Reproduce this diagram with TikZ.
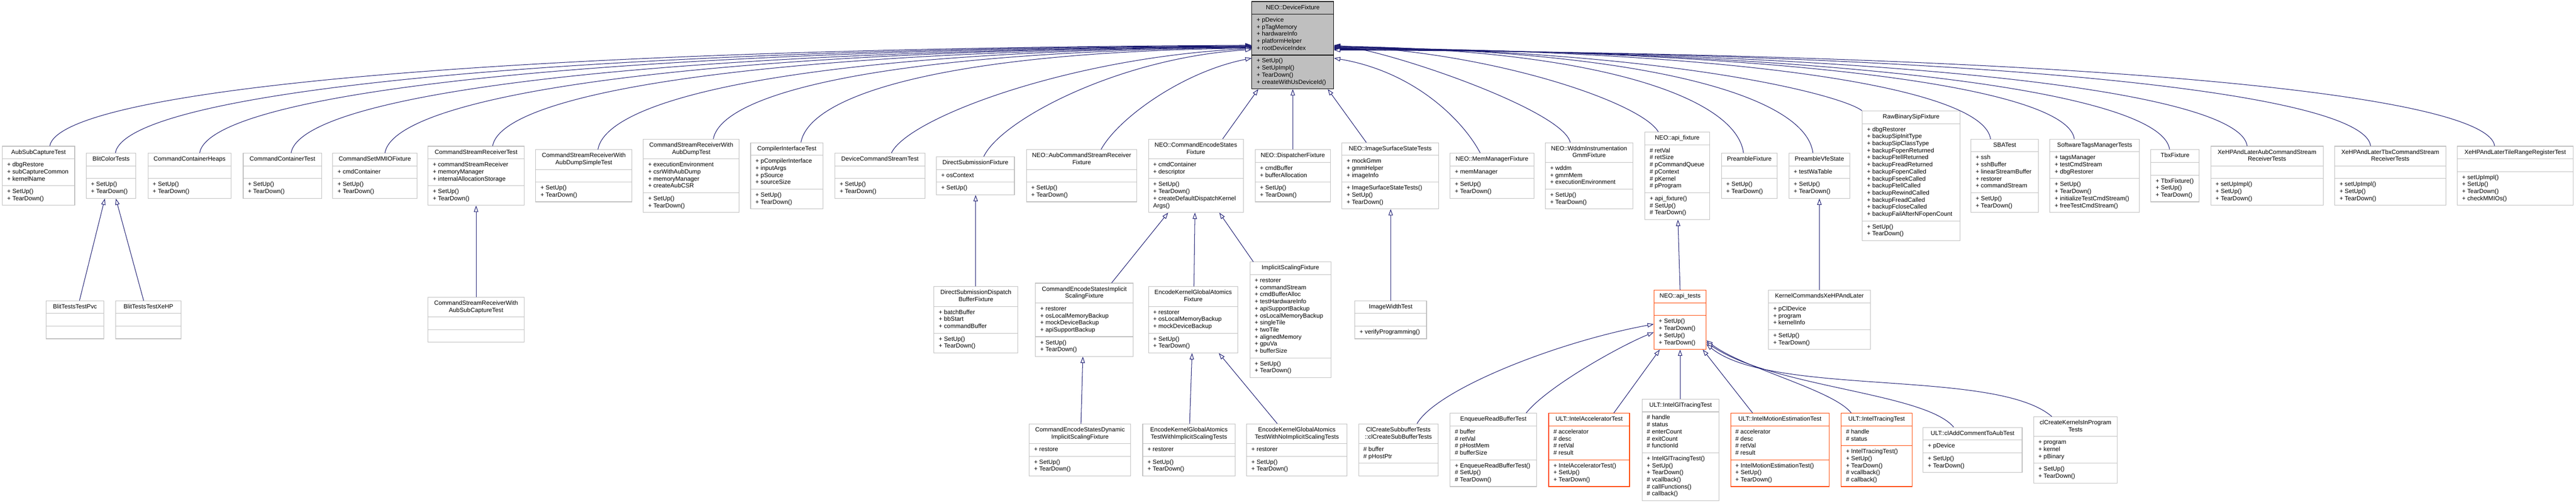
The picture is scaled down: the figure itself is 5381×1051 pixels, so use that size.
\documentclass[tikz,border=0pt]{standalone}
\usepackage{fontspec}
\setmainfont{Liberation Sans}
\usetikzlibrary{shapes.multipart,arrows.meta}
\definecolor{clsgray}{HTML}{BFBFBF}
\definecolor{rootgray}{HTML}{BFBFBF}
\definecolor{redb}{HTML}{FF4500}
\definecolor{edgec}{HTML}{191970}
\newcommand\pA{\strut+ }
\newcommand\hA{\strut\# }
\newcommand\ttl[2]{\begin{tabular}{@{}c@{}}#1\\#2\end{tabular}}
\tikzset{
 cls/.style={rectangle split, rectangle split parts=3, draw=clsgray, line width=1.2pt, fill=white,
   font=\fontsize{12.7}{14.75}\selectfont, align=left,
   rectangle split part align={center,left,left}, inner xsep=10pt, inner ysep=5.25pt},
 rootcls/.style={cls, draw=black, fill=rootgray},
 redcls/.style={cls, draw=redb},
 inh/.style={draw=edgec, line width=1.1pt, -{Triangle[length=13pt,width=9pt,fill=white]}},
}
\begin{document}
\begin{tikzpicture}[x=1pt,y=1pt]
\useasboundingbox (0,0) rectangle (5381,-1051);
\fill[white] (0,0) rectangle (5381,-1051);

% ---------- row 1
\node[rootcls, minimum width=171pt] (df) at (2700.5,-94.5) {\strut NEO::DeviceFixture
 \nodepart{second}\pA pDevice\\\pA pTagMemory\\\pA hardwareInfo\\\pA platformHelper\\\pA rootDeviceIndex
 \nodepart{third}\pA SetUp()\\\pA SetUpImpl()\\\pA TearDown()\\\pA createWithUsDeviceId()};

% ---------- row 2
\node[cls, minimum width=151pt] (aubsub) at (80.5,-367.5) {\strut AubSubCaptureTest
 \nodepart{second}\pA dbgRestore\\\pA subCaptureCommon\\\pA kernelName
 \nodepart{third}\pA SetUp()\\\pA TearDown()};
\node[cls, minimum width=104pt] (blitcolor) at (232,-367.5) {\strut BlitColorTests
 \nodepart{second}\strut
 \nodepart{third}\pA SetUp()\\\pA TearDown()};
\node[cls, minimum width=174pt] (cch) at (396,-367.5) {\strut CommandContainerHeaps
 \nodepart{second}\strut
 \nodepart{third}\pA SetUp()\\\pA TearDown()};
\node[cls, minimum width=164pt] (cct) at (590,-367.5) {\strut CommandContainerTest
 \nodepart{second}\strut
 \nodepart{third}\pA SetUp()\\\pA TearDown()};
\node[cls, minimum width=176pt] (mmio) at (783,-367.5) {\strut CommandSetMMIOFixture
 \nodepart{second}\pA cmdContainer
 \nodepart{third}\pA SetUp()\\\pA TearDown()};
\node[cls, minimum width=201pt] (csrt) at (994.5,-367.5) {\strut CommandStreamReceiverTest
 \nodepart{second}\pA commandStreamReceiver\\\pA memoryManager\\\pA internalAllocationStorage
 \nodepart{third}\pA SetUp()\\\pA TearDown()};
\node[cls, minimum width=201pt] (csrads) at (1219.5,-367.5) {\ttl{CommandStreamReceiverWith}{AubDumpSimpleTest}
 \nodepart{second}\strut
 \nodepart{third}\pA SetUp()\\\pA TearDown()};
\node[cls, minimum width=200pt] (csrad) at (1444,-367.5) {\ttl{CommandStreamReceiverWith}{AubDumpTest}
 \nodepart{second}\pA executionEnvironment\\\pA csrWithAubDump\\\pA memoryManager\\\pA createAubCSR
 \nodepart{third}\pA SetUp()\\\pA TearDown()};
\node[cls, minimum width=151pt] (cit) at (1643.5,-367.5) {\strut CompilerInterfaceTest
 \nodepart{second}\pA pCompilerInterface\\\pA inputArgs\\\pA pSource\\\pA sourceSize
 \nodepart{third}\pA SetUp()\\\pA TearDown()};
\node[cls, minimum width=188pt] (dcst) at (1838,-367.5) {\strut DeviceCommandStreamTest
 \nodepart{second}\strut
 \nodepart{third}\pA SetUp()\\\pA TearDown()};
\node[cls, minimum width=163pt] (dsf) at (2037.5,-367.5) {\strut DirectSubmissionFixture
 \nodepart{second}\pA osContext
 \nodepart{third}\pA SetUp()};
\node[cls, minimum width=231pt] (acsrf) at (2259.5,-367.5) {\ttl{NEO::AubCommandStreamReceiver}{Fixture}
 \nodepart{second}\strut
 \nodepart{third}\pA SetUp()\\\pA TearDown()};
\node[cls, minimum width=198pt] (cesf) at (2498,-367.5) {\ttl{NEO::CommandEncodeStates}{Fixture}
 \nodepart{second}\pA cmdContainer\\\pA descriptor
 \nodepart{third}\pA SetUp()\\\pA TearDown()\\\pA createDefaultDispatchKernel\\\strut Args()};
\node[cls, minimum width=157pt] (dispf) at (2700.5,-367.5) {\strut NEO::DispatcherFixture
 \nodepart{second}\pA cmdBuffer\\\pA bufferAllocation
 \nodepart{third}\pA SetUp()\\\pA TearDown()};
\node[cls, minimum width=202pt] (issf) at (2904,-367.5) {\strut NEO::ImageSurfaceStateTests
 \nodepart{second}\pA mockGmm\\\pA gmmHelper\\\pA imageInfo
 \nodepart{third}\pA ImageSurfaceStateTests()\\\pA SetUp()\\\pA TearDown()};
\node[cls, minimum width=175pt] (mmf) at (3116.5,-367.5) {\strut NEO::MemManagerFixture
 \nodepart{second}\pA memManager
 \nodepart{third}\pA SetUp()\\\pA TearDown()};
\node[cls, minimum width=183pt] (wddm) at (3319.5,-367.5) {\ttl{NEO::WddmInstrumentation}{GmmFixture}
 \nodepart{second}\pA wddm\\\pA gmmMem\\\pA executionEnvironment
 \nodepart{third}\pA SetUp()\\\pA TearDown()};
\node[cls, minimum width=135pt] (apif) at (3503.5,-367.5) {\strut NEO::api\_fixture
 \nodepart{second}\hA retVal\\\hA retSize\\\hA pCommandQueue\\\hA pContext\\\hA pKernel\\\hA pProgram
 \nodepart{third}\pA api\_fixture()\\\hA SetUp()\\\hA TearDown()};
\node[cls, minimum width=116pt] (pref) at (3654,-367.5) {\strut PreambleFixture
 \nodepart{second}\strut
 \nodepart{third}\pA SetUp()\\\pA TearDown()};
\node[cls, minimum width=127pt] (pvfe) at (3800.5,-367.5) {\strut PreambleVfeState
 \nodepart{second}\pA testWaTable
 \nodepart{third}\pA SetUp()\\\pA TearDown()};
\node[cls, minimum width=204pt] (rbsf) at (3992,-367.5) {\strut RawBinarySipFixture
 \nodepart{second}\pA dbgRestorer\\\pA backupSipInitType\\\pA backupSipClassType\\\pA backupFopenReturned\\\pA backupFtellReturned\\\pA backupFreadReturned\\\pA backupFopenCalled\\\pA backupFseekCalled\\\pA backupFtellCalled\\\pA backupRewindCalled\\\pA backupFreadCalled\\\pA backupFcloseCalled\\\pA backupFailAfterNFopenCount
 \nodepart{third}\pA SetUp()\\\pA TearDown()};
\node[cls, minimum width=141pt] (sba) at (4187.5,-367.5) {\strut SBATest
 \nodepart{second}\pA ssh\\\pA sshBuffer\\\pA linearStreamBuffer\\\pA restorer\\\pA commandStream
 \nodepart{third}\pA SetUp()\\\pA TearDown()};
\node[cls, minimum width=187pt] (stm) at (4375.5,-367.5) {\strut SoftwareTagsManagerTests
 \nodepart{second}\pA tagsManager\\\pA testCmdStream\\\pA dbgRestorer
 \nodepart{third}\pA SetUp()\\\pA TearDown()\\\pA initializeTestCmdStream()\\\pA freeTestCmdStream()};
\node[cls, minimum width=101pt] (tbx) at (4543.5,-367.5) {\strut TbxFixture
 \nodepart{second}\strut
 \nodepart{third}\pA TbxFixture()\\\pA SetUp()\\\pA TearDown()};
\node[cls, minimum width=235pt] (xaub) at (4735.5,-367.5) {\ttl{XeHPAndLaterAubCommandStream}{ReceiverTests}
 \nodepart{second}\strut
 \nodepart{third}\pA setUpImpl()\\\pA SetUp()\\\pA TearDown()};
\node[cls, minimum width=232pt] (xtbx) at (4993,-367.5) {\ttl{XeHPAndLaterTbxCommandStream}{ReceiverTests}
 \nodepart{second}\strut
 \nodepart{third}\pA setUpImpl()\\\pA SetUp()\\\pA TearDown()};
\node[cls, minimum width=242pt] (xtile) at (5254,-367.5) {\strut XeHPAndLaterTileRangeRegisterTest
 \nodepart{second}\strut
 \nodepart{third}\pA setUpImpl()\\\pA SetUp()\\\pA TearDown()\\\pA checkMMIOs()};

% ---------- row 3
\node[cls, minimum width=121pt] (pvc) at (156.5,-668.5) {\strut BlitTestsTestPvc
 \nodepart{second}\strut \nodepart{third}\strut};
\node[cls, minimum width=136pt] (xehp) at (310,-668.5) {\strut BlitTestsTestXeHP
 \nodepart{second}\strut \nodepart{third}\strut};
\node[cls, minimum width=201pt] (csrsub) at (994.5,-668.5) {\ttl{CommandStreamReceiverWith}{AubSubCaptureTest}
 \nodepart{second}\strut \nodepart{third}\strut};
\node[cls, minimum width=175pt] (dsdbf) at (2038.5,-668.5) {\ttl{DirectSubmissionDispatch}{BufferFixture}
 \nodepart{second}\pA batchBuffer\\\pA bbStart\\\pA commandBuffer
 \nodepart{third}\pA SetUp()\\\pA TearDown()};
\node[cls, minimum width=204pt] (cesisf) at (2265,-668.5) {\ttl{CommandEncodeStatesImplicit}{ScalingFixture}
 \nodepart{second}\pA restorer\\\pA osLocalMemoryBackup\\\pA mockDeviceBackup\\\pA apiSupportBackup
 \nodepart{third}\pA SetUp()\\\pA TearDown()};
\node[cls, minimum width=187pt] (ekgaf) at (2492.5,-668.5) {\ttl{EncodeKernelGlobalAtomics}{Fixture}
 \nodepart{second}\pA restorer\\\pA osLocalMemoryBackup\\\pA mockDeviceBackup
 \nodepart{third}\pA SetUp()\\\pA TearDown()};
\node[cls, minimum width=169pt] (isf) at (2695.5,-668.5) {\strut ImplicitScalingFixture
 \nodepart{second}\pA restorer\\\pA commandStream\\\pA cmdBufferAlloc\\\pA testHardwareInfo\\\pA apiSupportBackup\\\pA osLocalMemoryBackup\\\pA singleTile\\\pA twoTile\\\pA alignedMemory\\\pA gpuVa\\\pA bufferSize
 \nodepart{third}\pA SetUp()\\\pA TearDown()};
\node[cls, minimum width=150pt] (iwt) at (2905,-668.5) {\strut ImageWidthTest
 \nodepart{second}\strut
 \nodepart{third}\pA verifyProgramming()};
\node[redcls, minimum width=109pt] (apit) at (3509.5,-668.5) {\strut NEO::api\_tests
 \nodepart{second}\strut
 \nodepart{third}\pA SetUp()\\\pA TearDown()\\\pA SetUp()\\\pA TearDown()};
\node[cls, minimum width=213pt] (kcxe) at (3800.5,-668.5) {\strut KernelCommandsXeHPAndLater
 \nodepart{second}\pA pClDevice\\\pA program\\\pA kernelInfo
 \nodepart{third}\pA SetUp()\\\pA TearDown()};

% ---------- row 4
\node[cls, minimum width=212pt] (cesdis) at (2256,-940.5) {\ttl{CommandEncodeStatesDynamic}{ImplicitScalingFixture}
 \nodepart{second}\pA restore
 \nodepart{third}\pA SetUp()\\\pA TearDown()};
\node[cls, minimum width=193pt] (ekgawis) at (2483.5,-940.5) {\ttl{EncodeKernelGlobalAtomics}{TestWithImplicitScalingTests}
 \nodepart{second}\pA restorer
 \nodepart{third}\pA SetUp()\\\pA TearDown()};
\node[cls, minimum width=210pt] (ekgawnis) at (2709,-940.5) {\ttl{EncodeKernelGlobalAtomics}{TestWithNoImplicitScalingTests}
 \nodepart{second}\pA restorer
 \nodepart{third}\pA SetUp()\\\pA TearDown()};
\node[cls, minimum width=166pt] (ccsb) at (2921,-940.5) {\ttl{ClCreateSubbufferTests}{::clCreateSubBufferTests}
 \nodepart{second}\hA buffer\\\hA pHostPtr
 \nodepart{third}\strut};
\node[cls, minimum width=181pt] (erbt) at (3119.5,-940.5) {\strut EnqueueReadBufferTest
 \nodepart{second}\hA buffer\\\hA retVal\\\hA pHostMem\\\hA bufferSize
 \nodepart{third}\pA EnqueueReadBufferTest()\\\hA SetUp()\\\hA TearDown()};
\node[redcls, minimum width=169pt] (iat) at (3319.5,-940.5) {\strut ULT::IntelAcceleratorTest
 \nodepart{second}\hA accelerator\\\hA desc\\\hA retVal\\\hA result
 \nodepart{third}\pA IntelAcceleratorTest()\\\pA SetUp()\\\pA TearDown()};
\node[cls, minimum width=161pt] (igt) at (3510.5,-940.5) {\strut ULT::IntelGlTracingTest
 \nodepart{second}\hA handle\\\hA status\\\hA enterCount\\\hA exitCount\\\hA functionId
 \nodepart{third}\pA IntelGlTracingTest()\\\pA SetUp()\\\pA TearDown()\\\hA vcallback()\\\hA callFunctions()\\\hA callback()};
\node[redcls, minimum width=206pt] (imet) at (3718,-940.5) {\strut ULT::IntelMotionEstimationTest
 \nodepart{second}\hA accelerator\\\hA desc\\\hA retVal\\\hA result
 \nodepart{third}\pA IntelMotionEstimationTest()\\\pA SetUp()\\\pA TearDown()};
\node[redcls, minimum width=148pt] (itt) at (3920,-940.5) {\strut ULT::IntelTracingTest
 \nodepart{second}\hA handle\\\hA status
 \nodepart{third}\pA IntelTracingTest()\\\pA SetUp()\\\pA TearDown()\\\hA vcallback()\\\hA callback()};
\node[cls, minimum width=207pt] (cacta) at (4120.5,-940.5) {\strut ULT::clAddCommentToAubTest
 \nodepart{second}\pA pDevice
 \nodepart{third}\pA SetUp()\\\pA TearDown()};
\node[cls, minimum width=175pt] (ckipt) at (4335.5,-940.5) {\ttl{clCreateKernelsInProgram}{Tests}
 \nodepart{second}\pA program\\\pA kernel\\\pA pBinary
 \nodepart{third}\pA SetUp()\\\pA TearDown()};

% ---------- edges to NEO::DeviceFixture (left side)
\draw[inh] ([xshift=23.5pt]aubsub.north) .. controls (124,-192) and (983,-102) .. ([yshift=-92pt]df.north west);
\draw[inh] ([xshift=9pt]blitcolor.north) .. controls (261,-199) and (1072,-103) .. ([yshift=-93pt]df.north west);
\draw[inh] ([xshift=21pt]cch.north) .. controls (437,-199) and (1186,-104) .. ([yshift=-94pt]df.north west);
\draw[inh] ([xshift=18pt]cct.north) .. controls (628,-200) and (1310,-105) .. ([yshift=-95pt]df.north west);
\draw[inh] ([xshift=21pt]mmio.north) .. controls (824,-200) and (1438,-105) .. ([yshift=-95pt]df.north west);
\draw[inh] ([xshift=34.5pt]csrt.north) .. controls (1049,-194) and (1584,-106) .. ([yshift=-96pt]df.north west);
\draw[inh] ([xshift=29.5pt]csrads.north) .. controls (1269,-197) and (1727,-106) .. ([yshift=-96pt]df.north west);
\draw[inh] ([xshift=46pt]csrad.north) .. controls (1510,-188) and (1884,-107) .. ([yshift=-97pt]df.north west);
\draw[inh] ([xshift=29.5pt]cit.north) .. controls (1693,-192) and (2003,-108) .. ([yshift=-98pt]df.north west);
\draw[inh] ([xshift=24pt]dcst.north) .. controls (1897,-246) and (2238,-119) .. ([yshift=-99pt]df.north west);
\draw[inh] ([xshift=17.5pt]dsf.north) .. controls (2090,-252) and (2335,-121) .. ([yshift=-101pt]df.north west);
\draw[inh] ([xshift=40.5pt]acsrf.north) .. controls (2335,-248) and (2470,-150) .. ([yshift=-119pt]df.north west);
% bottom side
\draw[inh] ([xshift=56pt]cesf.north) -- ([xshift=14pt]df.south west);
\draw[inh] (dispf.north) -- (df.south);
\draw[inh] ([xshift=-50pt]issf.north) -- ([xshift=-13pt]df.south east);
% right side
\draw[inh] ([xshift=-24.5pt]mmf.north) .. controls (3057,-253) and (2956,-150) .. ([yshift=-119pt]df.north east);
\draw[inh] ([xshift=-39.5pt]wddm.north) .. controls (3265,-230) and (2900,-105) .. ([yshift=-92pt]df.north east);
\draw[inh] ([xshift=-39.5pt]apif.north) .. controls (3429,-215) and (3125,-110) .. ([yshift=-93pt]df.north east);
\draw[inh] ([xshift=-12pt]pref.north) .. controls (3627,-205) and (3342,-104) .. ([yshift=-94pt]df.north east);
\draw[inh] ([xshift=-13.5pt]pvfe.north) .. controls (3772,-200) and (3437,-105) .. ([yshift=-95pt]df.north east);
\draw[inh] (rbsf.north west) .. controls (3850,-200) and (3503,-106) .. ([yshift=-96pt]df.north east);
\draw[inh] ([xshift=-29.5pt]sba.north) .. controls (4143,-188) and (3678,-107) .. ([yshift=-97pt]df.north east);
\draw[inh] ([xshift=-42.5pt]stm.north) .. controls (4318,-188) and (3792,-108) .. ([yshift=-98pt]df.north east);
\draw[inh] ([xshift=-11.5pt]tbx.north) .. controls (4517,-199) and (3921,-109) .. ([yshift=-99pt]df.north east);
\draw[inh] ([xshift=-41.5pt]xaub.north) .. controls (4679,-196) and (4026,-110) .. ([yshift=-100pt]df.north east);
\draw[inh] ([xshift=-41pt]xtbx.north) .. controls (4937,-196) and (4194,-111) .. ([yshift=-101pt]df.north east);
\draw[inh] ([xshift=-43pt]xtile.north) .. controls (5196,-197) and (4362,-112) .. ([yshift=-102pt]df.north east);

% ---------- row 3 to row 2
\draw[inh] ([xshift=9.5pt]pvc.north) -- ([xshift=-13pt]blitcolor.south);
\draw[inh] ([xshift=-10pt]xehp.north) -- ([xshift=10pt]blitcolor.south);
\draw[inh] (csrsub.north) -- (csrt.south);
\draw[inh] ([xshift=-0.5pt]dsdbf.north) -- ([xshift=0.5pt]dsf.south);
\draw[inh] ([xshift=57pt]cesisf.north) -- ([xshift=-58pt]cesf.south);
\draw[inh] ([xshift=1.5pt]ekgaf.north) -- ([xshift=-2pt]cesf.south);
\draw[inh] ([xshift=-77.5pt]isf.north) -- ([xshift=49pt]cesf.south);
\draw[inh] (iwt.north) -- ([xshift=1pt]issf.south);
\draw[inh] (apit.north) -- ([xshift=1.5pt]apif.south);
\draw[inh] (kcxe.north) -- (pvfe.south);

% ---------- row 4 to row 3
\draw[inh] ([xshift=2pt]cesdis.north) -- ([xshift=-3pt]cesisf.south);
\draw[inh] ([xshift=1.5pt]ekgawis.north) -- ([xshift=-2.5pt]ekgaf.south);
\draw[inh] ([xshift=-41pt]ekgawnis.north) -- ([xshift=53.5pt]ekgaf.south);
\draw[inh] ([xshift=39pt]ccsb.north) .. controls (3000,-815) and (3250,-715) .. ([yshift=-71.5pt]apit.north west);
\draw[inh] ([xshift=68.5pt]erbt.north) .. controls (3230,-810) and (3380,-725) .. ([yshift=-88.5pt]apit.north west);
\draw[inh] ([xshift=51.5pt]iat.north) -- ([xshift=-42.5pt]apit.south);
\draw[inh] ([xshift=-1pt]igt.north) -- (apit.south);
\draw[inh] ([xshift=-57pt]imet.north) -- ([xshift=47.5pt]apit.south);
\draw[inh] ([xshift=-53pt]itt.north) .. controls (3830,-815) and (3640,-770) .. ([yshift=-105.5pt]apit.north east);
\draw[inh] ([xshift=-39.5pt]cacta.north) .. controls (4020,-820) and (3700,-810) .. ([yshift=-109.5pt]apit.north east);
\draw[inh] ([xshift=-49.5pt]ckipt.north) .. controls (4170,-770) and (3700,-830) .. ([yshift=-113.5pt]apit.north east);
\end{tikzpicture}
\end{document}
